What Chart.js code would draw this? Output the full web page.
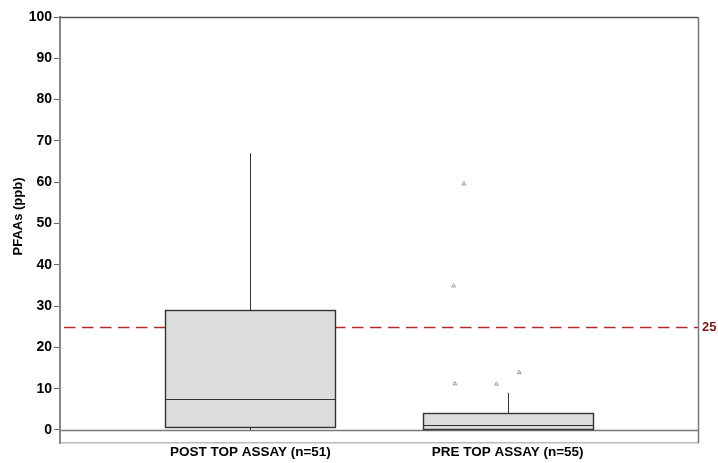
<!DOCTYPE html>
<html>
<head>
<meta charset="utf-8">
<script src="https://cdn.jsdelivr.net/npm/chart.js@4/dist/chart.umd.min.js"></script>
<style>
  html, body { margin: 0; padding: 0; background: #fff; }
  #wrap { width: 718px; height: 463px; }
</style>
</head>
<body>
<div id="wrap"><canvas id="c" width="718" height="463"></canvas></div>
<script>
// PFAAs concentrations (ppb), box-plot summary per assay group
const categories = ['POST TOP ASSAY (n=51)', 'PRE TOP ASSAY (n=55)'];
const whiskerLow  = [0.0, 0.0];
const q1          = [0.7, 0.15];
const median      = [7.5, 1.2];
const q3          = [29.0, 4.2];
const whiskerHigh = [67.0, 9.0];
// outliers: group index and value
const outlierGroup = [1, 1, 1, 1, 1];
const outlierValue = [59.6, 34.9, 13.9, 11.2, 11.1];
const referenceLevel = 25;
const yTicks = [0, 10, 20, 30, 40, 50, 60, 70, 80, 90, 100];
const yTitle = 'PFAAs (ppb)';

// horizontal spread of outlier markers around the group centre
const outlierJitter = [-0.17, -0.21, 0.045, -0.205, -0.043];
const BOX_HALF = 0.33;
const FONT = '"Liberation Sans", Arial, sans-serif';

const outlierPoints = outlierValue.map((v, i) => ({
  x: outlierGroup[i] + 1 + outlierJitter[i],
  y: v
}));

const boxPlugin = {
  id: 'boxes',
  beforeDatasetsDraw(chart) {
    const { ctx, chartArea: a, scales: { x, y } } = chart;
    ctx.save();
    // zero line
    ctx.strokeStyle = '#777';
    ctx.lineWidth = 1.5;
    ctx.beginPath();
    ctx.moveTo(a.left, Math.round(y.getPixelForValue(0)) + 0.5);
    ctx.lineTo(a.right, Math.round(y.getPixelForValue(0)) + 0.5);
    ctx.stroke();
    // reference level
    const ry = Math.round(y.getPixelForValue(referenceLevel)) + 0.5;
    ctx.strokeStyle = '#b82a2a';
    ctx.lineWidth = 1.3;
    ctx.setLineDash([11.5, 6.5]);
    ctx.beginPath();
    ctx.moveTo(a.left + 4, ry);
    ctx.lineTo(a.right, ry);
    ctx.stroke();
    ctx.setLineDash([]);

    categories.forEach((_, i) => {
      const cx = Math.round(x.getPixelForValue(i + 1)) + 0.5;
      const l = Math.round(x.getPixelForValue(i + 1 - BOX_HALF)) + 0.5;
      const r = Math.round(x.getPixelForValue(i + 1 + BOX_HALF)) + 0.5;
      const yq1 = Math.round(y.getPixelForValue(q1[i])) + 0.5;
      const yq3 = Math.round(y.getPixelForValue(q3[i])) + 0.5;
      const ymed = Math.round(y.getPixelForValue(median[i])) + 0.5;
      const ylo = y.getPixelForValue(whiskerLow[i]);
      const yhi = y.getPixelForValue(whiskerHigh[i]);
      // whiskers
      ctx.strokeStyle = '#333';
      ctx.lineWidth = 1;
      ctx.beginPath();
      ctx.moveTo(cx, yhi); ctx.lineTo(cx, yq3);
      ctx.moveTo(cx, yq1); ctx.lineTo(cx, ylo);
      ctx.stroke();
      // box
      ctx.fillStyle = '#dcdcdc';
      ctx.fillRect(l, yq3, r - l, yq1 - yq3);
      ctx.strokeStyle = '#333';
      ctx.lineWidth = 1.4;
      ctx.strokeRect(l, yq3, r - l, yq1 - yq3);
      // median
      ctx.lineWidth = 1.2;
      ctx.beginPath();
      ctx.moveTo(l, ymed); ctx.lineTo(r, ymed);
      ctx.stroke();
    });
    ctx.restore();
  },
  afterDraw(chart) {
    const { ctx, chartArea: a, scales: { y } } = chart;
    ctx.save();
    // top and right frame
    ctx.strokeStyle = '#555';
    ctx.lineWidth = 1.5;
    ctx.beginPath();
    ctx.moveTo(a.left, a.top + 0.5);
    ctx.lineTo(a.right, a.top + 0.5);
    ctx.stroke();
    ctx.strokeStyle = '#777';
    ctx.beginPath();
    ctx.moveTo(a.right + 0.5, a.top);
    ctx.lineTo(a.right + 0.5, a.bottom);
    ctx.stroke();
    // reference label
    ctx.fillStyle = '#7b1a1a';
    ctx.font = 'bold 13px ' + FONT;
    ctx.textAlign = 'left';
    ctx.textBaseline = 'middle';
    ctx.fillText(String(referenceLevel), a.right + 4, y.getPixelForValue(referenceLevel) + 1);
    // y-axis title
    ctx.translate(18, (y.getPixelForValue(100) + y.getPixelForValue(0)) / 2 - 7);
    ctx.rotate(-Math.PI / 2);
    ctx.fillStyle = '#000';
    ctx.font = 'bold 13px ' + FONT;
    ctx.textAlign = 'center';
    ctx.textBaseline = 'middle';
    ctx.fillText(yTitle, 0, 0);
    ctx.restore();
  }
};

new Chart(document.getElementById('c'), {
  type: 'scatter',
  data: {
    datasets: [{
      data: outlierPoints,
      pointStyle: 'triangle',
      radius: 2.2,
      borderWidth: 1,
      borderColor: '#9a9a9a',
      backgroundColor: 'rgba(0,0,0,0)'
    }]
  },
  options: {
    responsive: false,
    animation: false,
    layout: { padding: { left: 0, right: 20, top: 17, bottom: 0 } },
    plugins: { legend: { display: false }, tooltip: { enabled: false } },
    scales: {
      x: {
        type: 'linear',
        min: 0.26,
        max: 2.74,
        afterBuildTicks(s) { s.ticks = [{ value: 1 }, { value: 2 }]; },
        afterFit(s) { s.height = 20; },
        grid: { display: false, drawTicks: false },
        border: { display: true, color: '#bbb', width: 1.5 },
        ticks: {
          padding: 1,
          color: '#000',
          maxRotation: 0,
          autoSkip: false,
          font: { family: FONT, size: 13.5, weight: 'bold' },
          callback: v => categories[v - 1]
        }
      },
      y: {
        min: -3.15,
        max: 100,
        afterBuildTicks(s) { s.ticks = yTicks.map(v => ({ value: v })); },
        afterFit(s) { s.width = 60; },
        grid: {
          drawOnChartArea: false,
          drawTicks: true,
          tickLength: 6,
          color: '#666'
        },
        border: { display: true, color: '#888', width: 2 },
        title: { display: false },
        ticks: {
          padding: 2,
          color: '#000',
          font: { family: FONT, size: 14, weight: 'bold' }
        }
      }
    }
  },
  plugins: [boxPlugin]
});
</script>
</body>
</html>
